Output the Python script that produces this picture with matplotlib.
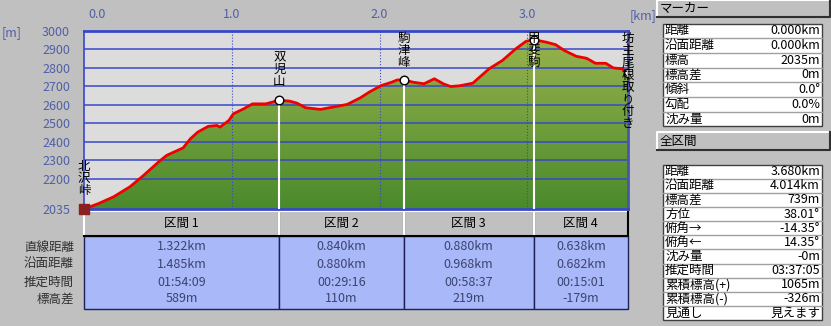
import numpy as np
import matplotlib.pyplot as plt
from matplotlib.patches import Rectangle, Polygon
from matplotlib.colors import LinearSegmentedColormap
from matplotlib.transforms import blended_transform_factory, ScaledTranslation

plt.rcParams['font.family'] = ['Noto Sans CJK JP', 'DejaVu Sans']

# elevation profile (horizontal distance km, elevation m)
dist_km = [0.00, 0.10, 0.20, 0.31, 0.40, 0.51, 0.56, 0.67, 0.72, 0.77, 0.84, 0.90, 0.92, 0.98,
           1.01, 1.08, 1.14, 1.23, 1.29, 1.322, 1.39, 1.44, 1.50, 1.60, 1.68, 1.78, 1.87, 1.93,
           2.01, 2.08, 2.12, 2.162, 2.23, 2.30, 2.37, 2.43, 2.48, 2.54, 2.63, 2.74, 2.83, 2.92,
           2.99, 3.042, 3.13, 3.19, 3.25, 3.33, 3.40, 3.46, 3.53, 3.58, 3.64, 3.68]
elev_m = [2035, 2065, 2101, 2155, 2215, 2294, 2326, 2366, 2416, 2452, 2483, 2488, 2479, 2515,
          2551, 2578, 2605, 2605, 2618, 2624, 2620, 2609, 2584, 2575, 2587, 2602, 2638, 2669,
          2704, 2722, 2735, 2734, 2722, 2714, 2741, 2714, 2699, 2703, 2717, 2795, 2840, 2903,
          2944, 2953, 2939, 2926, 2894, 2863, 2852, 2825, 2825, 2800, 2795, 2774]

point_names = ['北沢峠', '双児山', '駒津峰', '甲斐駒', '坊主尾根取り付き']
point_dist = [0.0, 1.322, 2.162, 3.042, 3.680]
point_elev = [2035, 2624, 2734, 2953, 2774]

y_ticks = [2035, 2200, 2300, 2400, 2500, 2600, 2700, 2800, 2900, 3000]
x_ticks = [0.0, 1.0, 2.0, 3.0]

# section table
section_names = ['区間 1', '区間 2', '区間 3', '区間 4']
row_names = ['直線距離', '沿面距離', '推定時間', '標高差']
straight = ['1.322km', '0.840km', '0.880km', '0.638km']
surface = ['1.485km', '0.880km', '0.968km', '0.682km']
est_time = ['01:54:09', '00:29:16', '00:58:37', '00:15:01']
elev_diff = ['589m', '110m', '219m', '-179m']

# side panels
marker_labels = ['距離', '沿面距離', '標高', '標高差', '傾斜', '勾配', '沈み量']
marker_values = ['0.000km', '0.000km', '2035m', '0m', '0.0°', '0.0%', '0m']
total_labels = ['距離', '沿面距離', '標高差', '方位', '俯角→', '俯角←', '沈み量',
                '推定時間', '累積標高(+)', '累積標高(-)', '見通し']
total_values = ['3.680km', '4.014km', '739m', '38.01°', '-14.35°', '14.35°', '-0m',
                '03:37:05', '1065m', '-326m', '見えます']

W, H = 831, 326
fig = plt.figure(figsize=(W / 100, H / 100), dpi=100, facecolor='#c0c0c0')

bg = fig.add_axes([0, 0, 1, 1], zorder=0)
bg.set_xlim(0, W)
bg.set_ylim(H, 0)
bg.axis('off')

L, R, T, B = 84, 628, 31, 209
ax = fig.add_axes([L / W, (H - B) / H, (R - L) / W, (B - T) / H], zorder=1)
xmax = dist_km[-1]
ymin, ymax = 2035, 3000
ax.set_facecolor('#dcdcdc')

# green gradient clipped to the profile
cmap = LinearSegmentedColormap.from_list('g', ['#4a8a2c', '#9ab44e'])
grad = np.linspace(0, 1, 256).reshape(-1, 1)
im = ax.imshow(grad, extent=[0, xmax, ymin, ymax], aspect='auto', origin='lower',
               cmap=cmap, zorder=1)
verts = list(zip(dist_km, elev_m)) + [(xmax, ymin), (0, ymin)]
poly = Polygon(verts, closed=True, fc='none', ec='none')
ax.add_patch(poly)
im.set_clip_path(poly)

grid_c = '#3848c8'
for v in y_ticks[1:-1]:
    ax.axhline(v, color=grid_c, lw=1.1, zorder=2)
for v in x_ticks[1:]:
    ax.axvline(v, color=grid_c, lw=0.8, ls=':', zorder=2)

for d, e in zip(point_dist[1:-1], point_elev[1:-1]):
    ax.plot([d, d], [ymin, e], color='white', lw=1.5, zorder=3)

ax.plot(dist_km, elev_m, color='#f00000', lw=2, zorder=4, solid_joinstyle='round')
ax.scatter(point_dist[1:], point_elev[1:], s=38, facecolor='white', edgecolor='black',
           lw=1, zorder=5)
ax.scatter([0.0], [2035], s=60, marker='s', color='#8b2020', zorder=5, clip_on=False)

# vertical place names
px_per_m = (B - T) / (ymax - ymin)
char_h = 12.5 / px_per_m
gap = 12 / px_per_m
for name, d, e in zip(point_names, point_dist, point_elev):
    top = min(ymax - 1 / px_per_m, e + gap + len(name) * char_h)
    ax.text(d, top, '\n'.join(name), ha='center', va='top', fontsize=9,
            linespacing=0.92, color='black', zorder=6, clip_on=False)

ax.set_xlim(0, xmax)
ax.set_ylim(ymin, ymax)

ax.set_yticks(y_ticks)
ax.set_yticklabels([str(v) for v in y_ticks])
ax.xaxis.tick_top()
ax.set_xticks(x_ticks)
ax.set_xticklabels(['%.1f' % v for v in x_ticks])
ax.tick_params(length=0, colors='#5060a8', labelsize=9)
ax.tick_params(axis='y', pad=10)
ax.tick_params(axis='x', pad=7)
first = ax.get_xticklabels()[0]
first.set_transform(first.get_transform() + ScaledTranslation(0.13, 0, fig.dpi_scale_trans))

ax.spines['top'].set_color(grid_c)
ax.spines['top'].set_linewidth(2)
ax.spines['bottom'].set_color(grid_c)
ax.spines['bottom'].set_linewidth(2)
ax.spines['left'].set_color(grid_c)
ax.spines['left'].set_linewidth(1.2)
ax.spines['right'].set_color('#4a56a8')
ax.spines['right'].set_linewidth(2)

bg.text(2, 33, '[m]', color='#5060a8', fontsize=9, va='center', ha='left')
bg.text(630, 16, '[km]', color='#5060a8', fontsize=9, va='center', ha='left')

# section table under the profile, columns follow the section boundaries
trans = blended_transform_factory(ax.transData, bg.transData)
hy0, hy1, by1 = 211, 236, 309
row_y = [247, 264, 282, 299]
rows = [straight, surface, est_time, elev_diff]
for i, sname in enumerate(section_names):
    x0, x1 = point_dist[i], point_dist[i + 1]
    bg.add_patch(Rectangle((x0, hy0), x1 - x0, hy1 - hy0, transform=trans,
                           fc='#c0c0c0', ec='none'))
    bg.plot([x0, x0, x1], [hy1, hy0, hy0], color='white', lw=1.5, transform=trans)
    bg.plot([x0, x1, x1], [hy1, hy1, hy0], color='black', lw=1.5, transform=trans)
    bg.text((x0 + x1) / 2, (hy0 + hy1) / 2, sname, transform=trans, ha='center',
            va='center', fontsize=9, color='black')
    bg.add_patch(Rectangle((x0, hy1), x1 - x0, by1 - hy1, transform=trans,
                           fc='#a8b8f8', ec='#20205a', lw=1))
    for r, vals in enumerate(rows):
        bg.text((x0 + x1) / 2, row_y[r], vals[i], transform=trans, ha='center',
                va='center', fontsize=9, color='#3c4470')
for r, rn in enumerate(row_names):
    bg.text(74, row_y[r], rn, ha='right', va='center', fontsize=9, color='#303030')


def header(y0, y1, label):
    bg.add_patch(Rectangle((657, y0), W - 657, y1 - y0, fc='#c0c0c0', ec='none'))
    bg.plot([657, 657, W], [y1, y0, y0], color='white', lw=1.5)
    bg.plot([657, W - 1, W - 1], [y1, y1, y0], color='#303030', lw=1.5)
    bg.text(660, (y0 + y1) / 2, label, ha='left', va='center', fontsize=9, color='black')


def panel(top, rh, labels, values):
    x0, x1 = 663, 822
    bottom = top + rh * len(labels)
    bg.add_patch(Rectangle((x0, top), x1 - x0, bottom - top, fc='white',
                           ec='#404040', lw=1))
    for k, (lab, val) in enumerate(zip(labels, values)):
        yc = top + rh * (k + 0.5)
        if k > 0:
            bg.plot([x0, x1], [top + rh * k, top + rh * k], color='#a0a0a0', lw=1)
        bg.text(x0 + 2, yc, lab, ha='left', va='center', fontsize=9, color='black')
        bg.text(x1 - 2, yc, val, ha='right', va='center', fontsize=9, color='black')


header(0, 17, 'マーカー')
panel(23.5, 14.7, marker_labels, marker_values)
header(132, 150, '全区間')
panel(164.5, 14.15, total_labels, total_values)

fig.savefig('out.png', dpi=100, facecolor=fig.get_facecolor())
